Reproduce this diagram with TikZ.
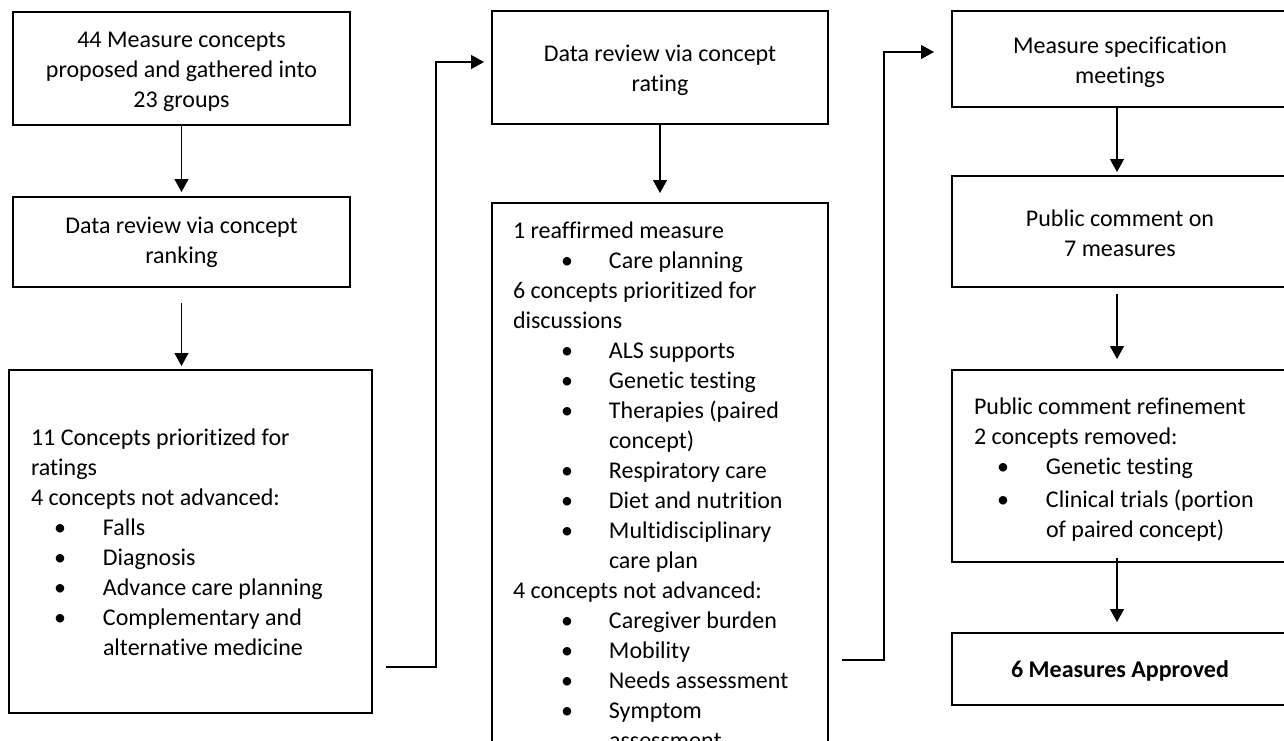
\documentclass[tikz,border=0pt]{standalone}
\usepackage{fontspec}
\setmainfont{Carlito}[Ligatures=NoCommon]
\usetikzlibrary{arrows.meta}

% one unbroken line of text
\newcommand\txtline[1]{\par\noindent\mbox{#1}}
% bulleted line: bullet centre offset, text offset, text
\newcommand\bitem[3]{\par\noindent\rlap{\hspace*{#1}\makebox[0pt]{\textbullet}}\hspace*{#2}\mbox{#3}}
% continuation line of a bulleted entry
\newcommand\cont[2]{\par\noindent\hspace*{#1}\mbox{#2}}

\begin{document}
\begin{tikzpicture}[x=1pt,y=-1pt,
  every node/.style={font=\fontsize{24}{30}\selectfont},
  box/.style={draw, line width=2pt, inner sep=0pt, align=center},
  txt/.style={align=center, inner sep=0pt},
  link/.style={line width=1.2pt, -{Triangle[length=13pt,width=14pt]}}]

\useasboundingbox (0,0) rectangle (1284,740);
\clip (0,0) rectangle (1284,740);

% left column
\node[box, minimum width=337pt, minimum height=113pt,
  label={[txt, yshift=-3pt]center:{44 Measure concepts\\proposed and gathered into\\23 groups}}]
  (b1) at (181.5,68.5) {};
\node[box, minimum width=337pt, minimum height=90pt,
  label={[txt]center:{Data review via concept\\ranking}}]
  (b2) at (181.5,242) {};
\node[box, minimum width=363pt, minimum height=343pt] (b3) at (190.5,541.5)
  {\begin{minipage}{319pt}
   \vspace*{2pt}
   \txtline{11 Concepts prioritized for}
   \txtline{ratings}
   \txtline{4 concepts not advanced:}
   \bitem{29pt}{72pt}{Falls}
   \bitem{29pt}{72pt}{Diagnosis}
   \bitem{29pt}{72pt}{Advance care planning}
   \bitem{29pt}{72pt}{Complementary and}
   \cont{72pt}{alternative medicine}
   \end{minipage}};

% middle column
\node[box, minimum width=336pt, minimum height=113pt,
  label={[txt, yshift=-3pt]center:{Data review via concept\\rating}}]
  (b4) at (660,67.5) {};
\node[box, minimum width=336pt, inner ysep=19pt, anchor=north] (b5) at (660,202)
  {\begin{minipage}{294pt}
   \txtline{1 reaffirmed measure}
   \bitem{54pt}{96pt}{Care planning}
   \txtline{6 concepts prioritized for}
   \txtline{discussions}
   \bitem{54pt}{96pt}{ALS supports}
   \bitem{54pt}{96pt}{Genetic testing}
   \bitem{54pt}{96pt}{Therapies (paired}
   \cont{96pt}{concept)}
   \bitem{54pt}{96pt}{Respiratory care}
   \bitem{54pt}{96pt}{Diet and nutrition}
   \bitem{54pt}{96pt}{Multidisciplinary}
   \cont{96pt}{care plan}
   \txtline{4 concepts not advanced:}
   \bitem{54pt}{96pt}{Caregiver burden}
   \bitem{54pt}{96pt}{Mobility}
   \bitem{54pt}{96pt}{Needs assessment}
   \bitem{54pt}{96pt}{Symptom}
   \cont{96pt}{assessment}
   \end{minipage}};

% right column
\node[box, minimum width=336pt, minimum height=96pt,
  label={[txt, yshift=-3.5pt]center:{Measure specification\\meetings}}]
  (b6) at (1120,59) {};
\node[box, minimum width=336pt, minimum height=111pt,
  label={[txt, yshift=-2pt]center:{Public comment on\\7 measures}}]
  (b7) at (1120,231.5) {};
\node[box, minimum width=336pt, minimum height=192pt] (b8) at (1120,466)
  {\begin{minipage}{292pt}
   \vspace*{8pt}
   \txtline{Public comment refinement}
   \txtline{2 concepts removed:}
   \bitem{29pt}{72pt}{Genetic testing}
   \par\vspace{3pt}
   \bitem{29pt}{72pt}{Clinical trials (portion}
   \cont{72pt}{of paired concept)}
   \end{minipage}};
\node[box, minimum width=336pt, minimum height=72pt,
  label={[txt, yshift=-2pt]center:{\bfseries 6 Measures Approved}}]
  (b9) at (1120,669) {};

% arrows down each column
\draw[link, shorten >=4pt] (b1) -- (b2);
\draw[link, shorten <=15pt, shorten >=3pt] (b2.south) -- (b2.south |- b3.north);
\draw[link, shorten >=9pt] (b4) -- (b5);
\draw[link, shorten >=3pt] ([xshift=-3pt]b6.south) -- ([xshift=-3pt]b7.north);
\draw[link, shorten <=6pt, shorten >=10pt] ([xshift=-3pt]b7.south) -- ([xshift=-3pt]b8.north);
\draw[link, shorten <=-5pt, shorten >=10pt] ([xshift=-3pt]b8.south) -- ([xshift=-3pt]b9.north);

% elbow connectors between columns
\draw[link, shorten >=7pt] ([xshift=13pt,yshift=-125.5pt]b3.east) -- ++(50,0)
  |- ([yshift=5.5pt]b4.west);
\draw[link, shorten >=17pt] ([xshift=13pt,yshift=-458pt]b5.north east) -- ++(42,0)
  |- ([yshift=7pt]b6.west);
\end{tikzpicture}
\end{document}
